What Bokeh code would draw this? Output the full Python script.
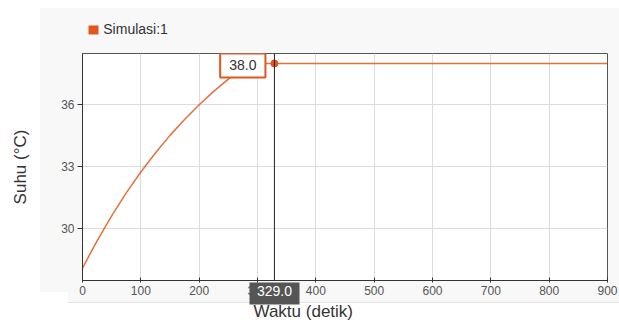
from bokeh.plotting import figure
from bokeh.models import (Range1d, Label, Span, FixedTicker, LinearAxis, Title,
                          PrintfTickFormatter)
from bokeh.embed import file_html
from bokeh.resources import INLINE

# ---- data ----
time_s = [0, 25, 50, 75, 100, 125, 150, 175, 200, 225, 250, 275, 286,
          300, 400, 500, 600, 700, 800, 900]
suhu = [28.1, 29.42, 30.63, 31.74, 32.75, 33.67, 34.52, 35.29, 36.0, 36.65, 37.24, 37.78, 38.0,
        38.0, 38.0, 38.0, 38.0, 38.0, 38.0, 38.0]
x_ticks = [0, 100, 200, 300, 400, 500, 600, 700, 800, 900]
y_ticks = [30, 33, 36]
series_name = "Simulasi:1"
cursor_t = 329.0
cursor_val = 38.0

ORANGE = "#e2561c"
FONT = "Liberation Sans"

p = figure(width=619, height=327, output_backend="svg", toolbar_location=None,
           x_range=Range1d(0, 900), y_range=Range1d(27.5, 38.48),
           min_border_left=82, min_border_right=12, min_border_top=53, min_border_bottom=47,
           border_fill_color=None, background_fill_color="white",
           outline_line_color="#555555", outline_line_width=1)

# grey panel behind the chart (page styling)
p.styles = {
    "background-color": "white",
    "background-image": "linear-gradient(#f8f8f8,#f8f8f8), linear-gradient(#f8f8f8,#f8f8f8), "
                        "linear-gradient(#e4e4e4,#e4e4e4)",
    "background-position": "40px 8px, 68px 292px, 68px 302px",
    "background-size": "579px 284px, 551px 10px, 551px 1px",
    "background-repeat": "no-repeat",
}

p.line(time_s, suhu, line_color=ORANGE, line_width=1.5, line_alpha=0.85)

# main axes
p.xaxis.ticker = FixedTicker(ticks=x_ticks)
p.yaxis.ticker = FixedTicker(ticks=y_ticks)
p.yaxis.axis_label = "Suhu (°C)"
for ax in (p.xaxis[0], p.yaxis[0]):
    ax.axis_label_text_font = FONT
    ax.axis_label_text_font_size = "17px"
    ax.axis_label_text_font_style = "normal"
    ax.axis_label_text_color = "#333333"
    ax.major_label_text_font = FONT
    ax.major_label_text_font_size = "12px"
    ax.major_label_text_color = "#555555"
    ax.axis_line_color = "#333333"
    ax.major_tick_line_color = "#333333"
    ax.minor_tick_line_color = None
p.xaxis.major_tick_in = 3
p.xaxis.major_tick_out = 2
p.xaxis.major_label_standoff = 3
p.yaxis.major_tick_in = 0
p.yaxis.major_tick_out = 5
p.yaxis.major_label_standoff = 3
p.yaxis.axis_label_standoff = 28

p.grid.grid_line_color = "#dcdcdc"
p.grid.grid_line_width = 1

# legend row above the plot: orange square + series name
leg = LinearAxis(ticker=FixedTicker(ticks=[91], minor_ticks=[18]),
                 major_label_overrides={91: series_name},
                 axis_line_color=None, major_tick_line_color=None,
                 major_tick_in=0, major_tick_out=0, major_label_standoff=-11,
                 minor_tick_line_color=ORANGE, minor_tick_line_width=10,
                 minor_tick_in=-19, minor_tick_out=28,
                 major_label_text_font=FONT, major_label_text_font_size="14px",
                 major_label_text_color="#333333")
p.add_layout(leg, "above")

# cursor
p.add_layout(Span(location=cursor_t, dimension="height", line_color="#222222", line_width=1))
p.scatter([cursor_t], [cursor_val], size=7, color=ORANGE)
p.add_layout(Label(x=cursor_t, y=cursor_val, x_offset=-9, y_offset=-2,
                   text=f"{cursor_val:.1f}", text_font=FONT, text_font_size="14px",
                   text_color="#333333", text_align="right", text_baseline="middle",
                   background_fill_color="white", border_line_color=ORANGE, border_line_width=2,
                   padding=(9, 7)))

# cursor value on the time axis
cur = LinearAxis(ticker=FixedTicker(ticks=[cursor_t], minor_ticks=[]),
                 formatter=PrintfTickFormatter(format="%.1f"),
                 axis_line_color=None, major_tick_line_color="#555555", major_tick_line_width=50,
                 major_tick_in=15, major_tick_out=7, major_label_standoff=-19,
                 minor_tick_line_color=None,
                 major_label_text_font=FONT, major_label_text_font_size="14px",
                 major_label_text_color="white")
p.add_layout(cur, "below")

p.add_layout(Title(text="Waktu (detik)", align="left", offset=171, standoff=2,
                   text_font=FONT, text_font_size="17px", text_font_style="normal",
                   text_color="#333333"), "below")

open("out.html", "w").write(file_html(p, INLINE))
